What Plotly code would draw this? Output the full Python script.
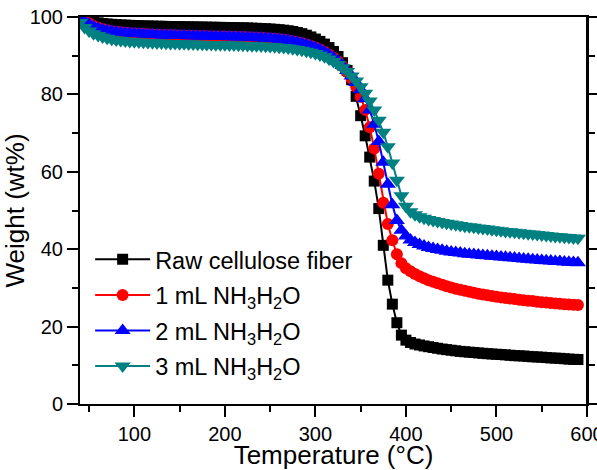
import plotly.graph_objects as go

TEMPERATURE = [40, 45, 50, 55, 60, 65, 70, 75, 80, 85, 90, 95, 100, 105, 110, 115, 120, 125, 130, 135,
               140, 145, 150, 155, 160, 165, 170, 175, 180, 185, 190, 195, 200, 205, 210, 215, 220, 225,
               230, 235, 240, 245, 250, 255, 260, 265, 270, 275, 280, 285, 290, 295, 300, 305, 310, 315,
               320, 325, 330, 335, 340, 345, 350, 355, 360, 365, 370, 375, 380, 385, 390, 395, 400, 405,
               410, 415, 420, 425, 430, 435, 440, 445, 450, 455, 460, 465, 470, 475, 480, 485, 490, 495,
               500, 505, 510, 515, 520, 525, 530, 535, 540, 545, 550, 555, 560, 565, 570, 575, 580, 585, 590]

RAW = [100.0, 99.4, 99.0, 98.7, 98.5, 98.3, 98.2, 98.1, 98.0, 97.95, 97.9, 97.85, 97.8, 97.75, 97.7, 97.68,
       97.65, 97.62, 97.6, 97.57, 97.55, 97.52, 97.5, 97.48, 97.46, 97.44, 97.42, 97.4, 97.38, 97.36, 97.34,
       97.32, 97.3, 97.28, 97.25, 97.22, 97.2, 97.16, 97.12, 97.08, 97.03, 96.97, 96.9, 96.82, 96.72, 96.6,
       96.45, 96.25, 96.0, 95.7, 95.3, 94.85, 94.3, 93.7, 93.0, 92.1, 91.1, 89.8, 88.2, 86.2, 83.8, 79.5,
       74.5, 69.3, 63.8, 57.6, 50.5, 41.0, 32.0, 25.8, 21.0, 17.8, 16.5, 15.9, 15.5, 15.25, 15.0, 14.8, 14.6,
       14.4, 14.2, 14.05, 13.9, 13.75, 13.6, 13.5, 13.4, 13.3, 13.2, 13.1, 13.0, 12.92, 12.85, 12.78, 12.7,
       12.6, 12.5, 12.45, 12.4, 12.3, 12.2, 12.15, 12.1, 12.0, 11.9, 11.85, 11.8, 11.7, 11.6, 11.55, 11.5]

NH3_1ML = [100.0, 99.1, 98.3, 97.7, 97.25, 96.9, 96.6, 96.35, 96.18, 96.03, 95.92, 95.82, 95.72, 95.65, 95.58,
           95.52, 95.47, 95.42, 95.38, 95.34, 95.3, 95.26, 95.23, 95.2, 95.17, 95.14, 95.11, 95.08, 95.05,
           95.02, 94.99, 94.96, 94.93, 94.9, 94.87, 94.84, 94.8, 94.76, 94.72, 94.67, 94.61, 94.54, 94.46,
           94.36, 94.24, 94.1, 93.93, 93.73, 93.5, 93.22, 92.9, 92.52, 92.1, 91.6, 91.0, 90.3, 89.5,
           88.5, 87.25, 85.8, 84.1, 82.0, 79.4, 76.0, 71.5, 66.0, 59.5, 52.0, 46.5, 42.3, 38.7, 36.4, 35.1,
           34.3, 33.6, 33.0, 32.5, 32.0, 31.6, 31.2, 30.8, 30.45, 30.1, 29.8, 29.5, 29.25, 29.0, 28.75, 28.5,
           28.3, 28.1, 27.9, 27.7, 27.55, 27.4, 27.25, 27.1, 26.95, 26.8, 26.7, 26.6, 26.45, 26.3, 26.2,
           26.1, 26.0, 25.9, 25.8, 25.7, 25.65, 25.6]

NH3_2ML = [100.0, 98.9, 98.1, 97.5, 97.1, 96.75, 96.5, 96.3, 96.15, 96.0, 95.9, 95.8, 95.72, 95.65, 95.58,
           95.52, 95.47, 95.42, 95.38, 95.34, 95.3, 95.26, 95.23, 95.2, 95.17, 95.14, 95.11, 95.08, 95.05,
           95.02, 94.99, 94.96, 94.93, 94.9, 94.87, 94.84, 94.8, 94.76, 94.72, 94.67, 94.61, 94.54, 94.46,
           94.36, 94.24, 94.1, 93.93, 93.73, 93.5, 93.22, 92.9, 92.52, 92.1, 91.6, 91.0, 90.3, 89.5, 88.55,
           87.45, 86.2, 84.75, 83.1, 81.2, 78.9, 76.0, 72.3, 67.8, 62.5, 56.8, 51.5, 47.4, 44.9, 43.4, 42.4,
           41.7, 41.2, 40.8, 40.45, 40.15, 39.9, 39.7, 39.5, 39.3, 39.15, 39.0, 38.85, 38.7, 38.6, 38.5, 38.4,
           38.3, 38.2, 38.1, 38.0, 37.9, 37.8, 37.7, 37.6, 37.5, 37.4, 37.3, 37.2, 37.1, 37.0, 36.95, 36.85,
           36.8, 36.7, 36.6, 36.55, 36.5]

NH3_3ML = [98.6, 97.3, 96.4, 95.7, 95.2, 94.8, 94.5, 94.25, 94.05, 93.9, 93.78, 93.68, 93.6, 93.53, 93.46,
           93.4, 93.35, 93.3, 93.26, 93.22, 93.18, 93.14, 93.1, 93.07, 93.04, 93.01, 92.98, 92.95, 92.92,
           92.89, 92.86, 92.83, 92.8, 92.77, 92.74, 92.71, 92.68, 92.64, 92.6, 92.55, 92.5, 92.44, 92.37,
           92.29, 92.2, 92.09, 91.96, 91.81, 91.63, 91.42, 91.17, 90.88, 90.55, 90.15, 89.7, 89.15, 88.5,
           87.75, 86.9, 85.9, 84.75, 83.45, 82.0, 80.3, 78.3, 76.0, 73.3, 70.2, 66.5, 62.3, 57.8, 53.8, 51.1,
           49.7, 48.9, 48.4, 48.0, 47.7, 47.4, 47.15, 46.9, 46.7, 46.5, 46.3, 46.1, 45.95, 45.8, 45.65, 45.5,
           45.35, 45.2, 45.05, 44.9, 44.75, 44.6, 44.5, 44.4, 44.25, 44.1, 44.0, 43.9, 43.8, 43.7, 43.55,
           43.4, 43.3, 43.2, 43.1, 43.0, 42.9, 42.8]

SERIES_NAMES = ["Raw cellulose fiber",
                "1 mL NH<sub>3</sub>H<sub>2</sub>O",
                "2 mL NH<sub>3</sub>H<sub>2</sub>O",
                "3 mL NH<sub>3</sub>H<sub>2</sub>O"]
SERIES_VALUES = [RAW, NH3_1ML, NH3_2ML, NH3_3ML]
COLORS = ["#000000", "#ff0000", "#0000ff", "#008080"]
SYMBOLS = ["square", "circle", "triangle-up", "triangle-down"]
SIZES = [11, 12, 14, 14]

X_TICKS = [100, 200, 300, 400, 500, 600]
Y_TICKS = [0, 20, 40, 60, 80, 100]

FONT = "Arial, 'Liberation Sans', sans-serif"

fig = go.Figure()
for i, (name, vals, col, sym, sz) in enumerate(zip(SERIES_NAMES, SERIES_VALUES, COLORS, SYMBOLS, SIZES)):
    fig.add_trace(go.Scatter(
        x=TEMPERATURE, y=vals, name=name, mode="lines+markers",
        legendgroup=f"g{i}",
        line=dict(color=col, width=2),
        marker=dict(symbol=sym, size=sz, color=col, line=dict(width=0)),
    ))

# empty helper trace so that the right-hand frame axis is drawn
fig.add_trace(go.Scatter(x=[None], y=[None], yaxis="y2", showlegend=False, hoverinfo="skip"))

axis_common = dict(
    showline=True, linecolor="black", linewidth=2,
    ticks="outside", ticklen=11, tickwidth=2, tickcolor="black",
    showgrid=False, zeroline=False, automargin=False,
    tickfont=dict(family=FONT, size=20, color="black"),
)
y_minor = dict(ticks="outside", ticklen=6, tickwidth=2, tickcolor="black", dtick=10, tick0=0, showgrid=False)

fig.update_xaxes(
    range=[40, 600], tickvals=X_TICKS, ticktext=[str(v) for v in X_TICKS], mirror=True,
    ticklabeloverflow="allow",
    minor=dict(ticks="outside", ticklen=6, tickwidth=2, tickcolor="black", dtick=50, tick0=0, showgrid=False),
    title=dict(text="Temperature (°C)", font=dict(family=FONT, size=26, color="black"), standoff=10),
    **axis_common,
)

fig.update_layout(
    width=597, height=470,
    margin=dict(l=80, r=10, t=17, b=66, autoexpand=False),
    paper_bgcolor="white", plot_bgcolor="white",
    font=dict(family=FONT, color="black"),
    showlegend=True,
    yaxis=dict(
        range=[0, 100], tickvals=Y_TICKS, ticktext=[str(v) for v in Y_TICKS], mirror="ticks",
        minor=y_minor,
        title=dict(text="Weight (wt%)", font=dict(family=FONT, size=26, color="black"), standoff=8),
        **axis_common,
    ),
    yaxis2=dict(
        range=[0, 100], tickvals=Y_TICKS, overlaying="y", side="right", anchor="x",
        showticklabels=False, minor=y_minor,
        **axis_common,
    ),
    shapes=[dict(type="line", xref="paper", yref="paper", x0=1, x1=1, y0=0, y1=1,
                 line=dict(color="black", width=2), layer="above")],
    legend=dict(
        x=0.02, y=0.43, xanchor="left", yanchor="top",
        bgcolor="rgba(0,0,0,0)", borderwidth=0,
        font=dict(family=FONT, size=23.5, color="black"),
        itemwidth=55, tracegroupgap=2,
    ),
)

fig.write_html(
    "out.html",
    config={"displayModeBar": False},
    post_script=("document.body.style.margin='0px';"
                 "document.body.style.overflow='hidden';"
                 "document.documentElement.style.overflow='hidden';"),
)
